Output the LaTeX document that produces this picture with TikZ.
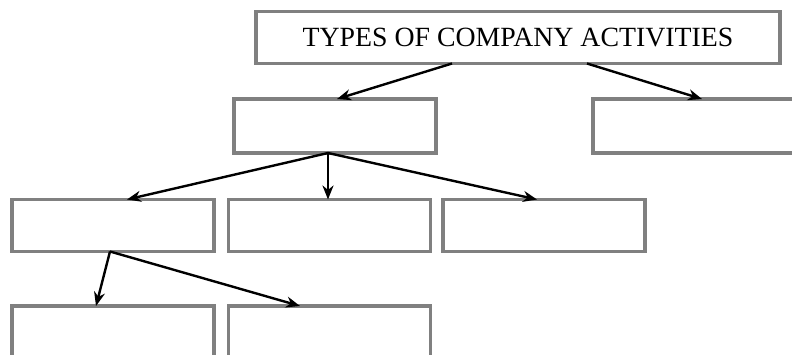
\documentclass[tikz,border=0pt]{standalone}
\usepackage{fontspec}
\setmainfont{Liberation Serif}
\usepackage{tikz}
\usetikzlibrary{arrows.meta}
\tikzstyle{box} = [rectangle, draw=gray, line width=3.9pt, outer sep=0pt,
    minimum width=202pt, minimum height=52pt]
\tikzstyle{title} = [box, minimum width=524pt,
    font=\fontsize{27.8}{32}\selectfont]
\tikzstyle{line} = [draw, line width=2.4pt, -{Stealth[length=14pt,width=11pt,inset=4.5pt]}]

\begin{document}
\begin{tikzpicture}[x=1pt, y=-1pt]
            \useasboundingbox (0,0) rectangle (792,355);
            % Place nodes
            \node [title] (types) at (518,37.5) {TYPES OF COMPANY ACTIVITIES};

            \node [box, minimum height=54pt, below of=types, node distance=88.5pt, xshift=-183pt] (actA) {};
            \node [box, minimum height=54pt, right of=actA, node distance=359pt] (actB) {};

            \node [box, below of=actA, node distance=99.5pt, xshift=-222pt] (subA) {};
            \node [box, right of=subA, node distance=216.5pt] (subB) {};
            \node [box, right of=subB, node distance=214.5pt] (subC) {};

            \node [box, below of=subA, node distance=106.5pt] (detA) {};
            \node [box, right of=detA, node distance=216.5pt] (detB) {};

            % Draw edges
            \path [line] ([xshift=-66pt]types.south) -- ([xshift=2pt]actA.north);
            \path [line] ([xshift=69pt]types.south) -- ([xshift=8pt]actB.north);

            \path [line] ([xshift=-7pt]actA.south) -- ([xshift=14pt]subA.north);
            \path [line] ([xshift=-7pt]actA.south) -- ([xshift=-1.5pt]subB.north);
            \path [line] ([xshift=-7pt]actA.south) -- ([xshift=-7pt]subC.north);

            \path [line] ([xshift=-3pt]subA.south) -- ([xshift=-17pt]detA.north);
            \path [line] ([xshift=-3pt]subA.south) -- ([xshift=-29.5pt]detB.north);

        \end{tikzpicture}
\end{document}
